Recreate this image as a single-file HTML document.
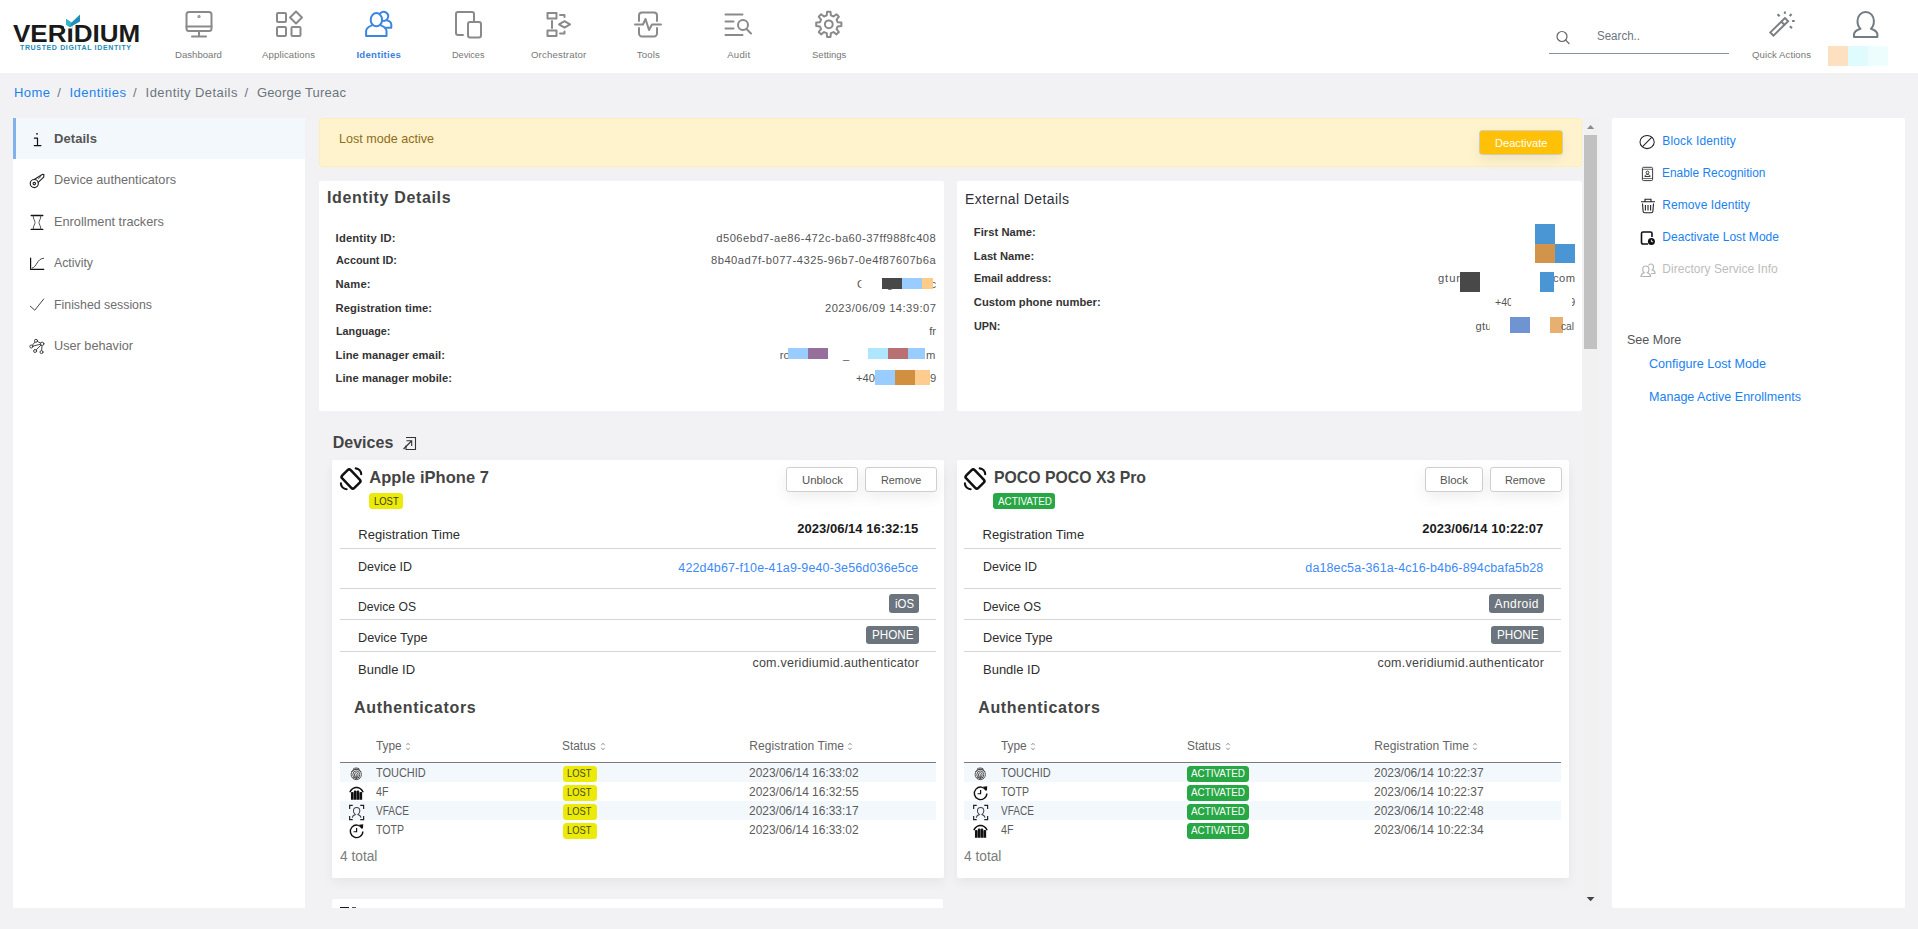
<!DOCTYPE html>
<html><head><meta charset="utf-8"><title>Identity Details</title>
<style>
html,body{margin:0;padding:0}
body{width:1918px;height:929px;background:#f2f2f4;position:relative;overflow:hidden;font-family:"Liberation Sans",sans-serif;}
.a{position:absolute;display:block}
.t{white-space:pre;}
svg{overflow:visible}
</style></head><body>
<div class="a" style="left:0px;top:0px;width:1918px;height:73px;background:#fff;"></div>
<svg class="a" style="left:0;top:0" width="160" height="73" viewBox="0 0 160 73">
<text x="13" y="42" font-family="Liberation Sans" font-weight="700" font-size="23.6" fill="#1a1a1a" textLength="127.300" lengthAdjust="spacingAndGlyphs">VERIDIUM</text>
<rect x="64" y="22" width="8" height="6.5" fill="#fff"/>
<polygon points="66,19 71.5,22.5 80,14.5 80,21.5 70,27.2 66,24.5" fill="#1f8fb8"/>
<polygon points="66,19 71.5,22.5 70,27.2 66,24.5" fill="#35b3c9"/>
<text x="20" y="49.6" font-family="Liberation Sans" font-weight="700" font-size="7" fill="#1c8cb8" textLength="111" lengthAdjust="spacing">TRUSTED DIGITAL IDENTITY</text>
</svg>
<span class="a t" style="left:175.00px;top:49.87px;font-size:9.6px;line-height:9.6px;color:#777;">Dashboard</span>
<span class="a t" style="left:262.00px;top:49.87px;font-size:9.6px;line-height:9.6px;color:#777;letter-spacing:0.112px;">Applications</span>
<span class="a t" style="left:356.45px;top:49.87px;font-size:9.6px;line-height:9.6px;color:#3b82dd;font-weight:700;letter-spacing:0.262px;">Identities</span>
<span class="a t" style="left:452.45px;top:49.87px;font-size:9.6px;line-height:9.6px;color:#777;transform:scaleX(0.9518);transform-origin:0 0;">Devices</span>
<span class="a t" style="left:530.95px;top:49.87px;font-size:9.6px;line-height:9.6px;color:#777;letter-spacing:0.177px;">Orchestrator</span>
<span class="a t" style="left:636.85px;top:49.87px;font-size:9.6px;line-height:9.6px;color:#777;letter-spacing:0.122px;">Tools</span>
<span class="a t" style="left:727.20px;top:49.87px;font-size:9.6px;line-height:9.6px;color:#777;letter-spacing:0.280px;">Audit</span>
<span class="a t" style="left:811.50px;top:49.87px;font-size:9.6px;line-height:9.6px;color:#777;transform:scaleX(0.9917);transform-origin:0 0;">Settings</span>
<svg class="a" style="left:184.5px;top:10px" width="28" height="28" viewBox="0 0 28 28" fill="none" stroke="#8a8a8a" stroke-width="2" stroke-linecap="round" stroke-linejoin="round"><rect x="1.5" y="2" width="25" height="19" rx="2.5"/><path d="M1.5 16.5h25M14 21v5M7 26.5h14"/><circle cx="14" cy="6.5" r="0.6"/></svg>
<svg class="a" style="left:274.5px;top:10px" width="28" height="28" viewBox="0 0 28 28" fill="none" stroke="#8a8a8a" stroke-width="2" stroke-linecap="round" stroke-linejoin="round"><rect x="2" y="3" width="9" height="9" rx="1"/><rect x="2" y="17" width="9" height="9" rx="1"/><rect x="16.5" y="17" width="9" height="9" rx="1"/><path d="M21 1.5l6 6-6 6-6-6z"/></svg>
<svg class="a" style="left:364.7px;top:10px" width="28" height="28" viewBox="0 0 28 28" fill="none" stroke="#3b86e0" stroke-width="2" stroke-linecap="round" stroke-linejoin="round"><ellipse cx="11.400" cy="9.700" rx="5.700" ry="6.600"/><path d="M6.800 15.300C4 16.500 1.100 17.800 1.100 21V25.900H21.500V21C21.500 17.800 18.800 16.500 16 15.300"/><path d="M15.400 3.200A4.500 4.500 0 1 1 17.200 10.600"/><path d="M21.500 10.200C24 10.700 26.300 12 26.300 14.500V17.700H19.800"/></svg>
<svg class="a" style="left:453.9px;top:10px" width="28" height="28" viewBox="0 0 28 28" fill="none" stroke="#8a8a8a" stroke-width="2" stroke-linecap="round" stroke-linejoin="round"><path d="M9 25H4a2 2 0 0 1-2-2V4a2 2 0 0 1 2-2h14a2 2 0 0 1 2 2v7"/><rect x="14" y="12" width="13" height="15.500" rx="2"/></svg>
<svg class="a" style="left:544.6px;top:10px" width="28" height="28" viewBox="0 0 28 28" fill="none" stroke="#8a8a8a" stroke-width="2" stroke-linecap="round" stroke-linejoin="round"><rect x="2.500" y="3" width="9" height="5.500"/><rect x="2.500" y="20.500" width="9" height="5.500"/><path d="M7 11v7M15 5h4.500v2M15 23.500h4.500v-2M14 14.400l5.500-3.200 5.500 3.200-5.500 3.200z"/></svg>
<svg class="a" style="left:634.3px;top:10px" width="28" height="28" viewBox="0 0 28 28" fill="none" stroke="#8a8a8a" stroke-width="2" stroke-linecap="round" stroke-linejoin="round"><path d="M5 11V5.500a3 3 0 0 1 3-3h12a3 3 0 0 1 3 3V11M5 18v5.500a3 3 0 0 0 3 3h12a3 3 0 0 0 3-3V18M1 14.500h8l2.500-5.500 3.500 11 3-5.500h9"/></svg>
<svg class="a" style="left:724px;top:10px" width="28" height="28" viewBox="0 0 28 28" fill="none" stroke="#8a8a8a" stroke-width="2" stroke-linecap="round" stroke-linejoin="round"><path d="M1.500 4.500h17M1.500 11.500h8M1.500 18.500h8M1.500 25h17"/><circle cx="19" cy="15" r="5"/><path d="M22.500 19l4.500 4.500"/></svg>
<svg class="a" style="left:814.7px;top:10px" width="28" height="28" viewBox="0 0 28 28" fill="none" stroke="#8a8a8a" stroke-width="2" stroke-linecap="round" stroke-linejoin="round"><path d="M11.68 5.45 L12.11 1.71 L15.49 1.71 L15.92 5.45 L18.55 6.54 L21.50 4.20 L23.90 6.60 L21.56 9.55 L22.65 12.18 L26.39 12.61 L26.39 15.99 L22.65 16.42 L21.56 19.05 L23.90 22.00 L21.50 24.40 L18.55 22.06 L15.92 23.15 L15.49 26.89 L12.11 26.89 L11.68 23.15 L9.05 22.06 L6.10 24.40 L3.70 22.00 L6.04 19.05 L4.95 16.42 L1.21 15.99 L1.21 12.61 L4.95 12.18 L6.04 9.55 L3.70 6.60 L6.10 4.20 L9.05 6.54Z"/><circle cx="13.800" cy="14.300" r="3.900"/></svg>
<svg class="a" style="left:1555px;top:29px" width="16" height="16" viewBox="0 0 16 16" fill="none" stroke="#666" stroke-width="1.2" stroke-linecap="round"><circle cx="7" cy="7.500" r="5"/><path d="M10.700 11.200l3.300 3.300"/></svg>
<span class="a t" style="left:1597.00px;top:29.84px;font-size:12px;line-height:12px;color:#6c757d;transform:scaleX(0.9622);transform-origin:0 0;">Search..</span>
<div class="a" style="left:1549px;top:52.6px;width:180px;height:1.2px;background:#84929a;"></div>
<svg class="a" style="left:1767px;top:10px" width="30" height="30" viewBox="0 0 30 30" fill="none" stroke="#787f84" stroke-width="1.900" stroke-linejoin="miter"><path d="M17.900 8L21.100 11.200 6.500 25.600 3.300 22.400z"/><path d="M13.800 11.200l4.200 4.100"/><path d="M10.500 4.200l2.200 2M17.900 1.400v2.300M24.500 4l-1.800 2.200M25.100 11h2.600M22.800 16.300l2.200 1.800" stroke-width="2.100"/></svg>
<span class="a t" style="left:1752.00px;top:49.87px;font-size:9.6px;line-height:9.6px;color:#777;letter-spacing:0.070px;">Quick Actions</span>
<svg class="a" style="left:1851px;top:10px" width="30" height="30" viewBox="0 0 30 30" fill="none" stroke="#737c80" stroke-width="2" stroke-linejoin="round"><path d="M3 27v-2c0-3.500 3-5.300 6.500-6.300C7.500 17 6.500 14.500 6.500 11c0-5 3.500-9 8.200-9s8.200 4 8.200 9c0 3.500-1 6-3 7.700 3.500 1 6.500 2.800 6.500 6.300v2z"/></svg>
<div class="a" style="left:1828px;top:46px;width:20px;height:20px;background:#fde0c0;"></div>
<div class="a" style="left:1848px;top:46px;width:20px;height:20px;background:#e0fbfd;"></div>
<div class="a" style="left:1868px;top:46px;width:20px;height:20px;background:#edfdfd;"></div>
<span class="a t" style="left:14.00px;top:86.00px;font-size:13px;line-height:13px;color:#1a82f0;letter-spacing:0.440px;">Home</span>
<span class="a t" style="left:57.30px;top:86.00px;font-size:13px;line-height:13px;color:#6c757d;">/</span>
<span class="a t" style="left:69.40px;top:86.00px;font-size:13px;line-height:13px;color:#1a82f0;letter-spacing:0.508px;">Identities</span>
<span class="a t" style="left:133.00px;top:86.00px;font-size:13px;line-height:13px;color:#6c757d;">/</span>
<span class="a t" style="left:145.60px;top:86.00px;font-size:13px;line-height:13px;color:#6c757d;letter-spacing:0.436px;">Identity Details</span>
<span class="a t" style="left:244.60px;top:86.00px;font-size:13px;line-height:13px;color:#6c757d;">/</span>
<span class="a t" style="left:256.90px;top:86.00px;font-size:13px;line-height:13px;color:#6c757d;letter-spacing:0.190px;">George Tureac</span>
<div class="a" style="left:13px;top:118px;width:292px;height:790px;background:#fff;"></div>
<div class="a" style="left:13px;top:118px;width:292px;height:41px;background:#f3f8fc;"></div>
<div class="a" style="left:13px;top:118px;width:3px;height:41px;background:#80b2ec;"></div>
<span class="a t" style="left:54.00px;top:132.00px;font-size:13px;line-height:13px;color:#555;font-weight:700;letter-spacing:0.061px;">Details</span>
<span class="a t" style="left:54.00px;top:173.00px;font-size:13px;line-height:13px;color:#6e6e6e;transform:scaleX(0.9759);transform-origin:0 0;">Device authenticators</span>
<span class="a t" style="left:54.00px;top:215.00px;font-size:13px;line-height:13px;color:#6e6e6e;transform:scaleX(0.9823);transform-origin:0 0;">Enrollment trackers</span>
<span class="a t" style="left:54.00px;top:256.00px;font-size:13px;line-height:13px;color:#6e6e6e;transform:scaleX(0.9473);transform-origin:0 0;">Activity</span>
<span class="a t" style="left:54.00px;top:297.50px;font-size:13px;line-height:13px;color:#6e6e6e;transform:scaleX(0.9484);transform-origin:0 0;">Finished sessions</span>
<span class="a t" style="left:54.00px;top:339.00px;font-size:13px;line-height:13px;color:#6e6e6e;transform:scaleX(0.9762);transform-origin:0 0;">User behavior</span>
<div class="a" style="left:319px;top:118px;width:1262.8px;height:48.8px;background:#fff3cd;border-radius:3.5px;box-shadow:inset 0 0 0 1px #ffeeba"></div>
<span class="a t" style="left:338.50px;top:132.00px;font-size:13px;line-height:13px;color:#8d6d1a;transform:scaleX(0.9667);transform-origin:0 0;">Lost mode active</span>
<div class="a" style="left:1479.8px;top:130.7px;width:82.4px;height:23.4px;background:#ffc107;border-radius:2.5px;box-shadow:0 0 0 0.8px rgba(160,160,170,.55),0 5px 14px rgba(0,0,0,.07)"></div>
<span class="a t" style="left:1494.65px;top:137.52px;font-size:11.2px;line-height:11.2px;color:#fff;transform:scaleX(0.9921);transform-origin:0 0;">Deactivate</span>
<div class="a" style="left:319px;top:181px;width:625px;height:230px;background:#fff;border-radius:2px"></div>
<span class="a t" style="left:327.00px;top:190.46px;font-size:16px;line-height:16px;color:#444;font-weight:700;letter-spacing:0.653px;">Identity Details</span>
<span class="a t" style="left:335.60px;top:233.02px;font-size:11.2px;line-height:11.2px;color:#333;font-weight:700;letter-spacing:0.194px;">Identity ID:</span>
<span class="a t" style="left:716.30px;top:233.02px;font-size:11.2px;line-height:11.2px;color:#555;letter-spacing:0.465px;">d506ebd7-ae86-472c-ba60-37ff988fc408</span>
<span class="a t" style="left:335.60px;top:255.22px;font-size:11.2px;line-height:11.2px;color:#333;font-weight:700;transform:scaleX(0.9707);transform-origin:0 0;">Account ID:</span>
<span class="a t" style="left:711.00px;top:255.22px;font-size:11.2px;line-height:11.2px;color:#555;letter-spacing:0.485px;">8b40ad7f-b077-4325-96b7-0e4f87607b6a</span>
<span class="a t" style="left:335.60px;top:278.52px;font-size:11.2px;line-height:11.2px;color:#333;font-weight:700;letter-spacing:0.191px;">Name:</span>
<span class="a t" style="left:335.60px;top:303.12px;font-size:11.2px;line-height:11.2px;color:#333;font-weight:700;letter-spacing:0.076px;">Registration time:</span>
<span class="a t" style="left:825.00px;top:303.12px;font-size:11.2px;line-height:11.2px;color:#555;letter-spacing:0.457px;">2023/06/09 14:39:07</span>
<span class="a t" style="left:335.60px;top:325.52px;font-size:11.2px;line-height:11.2px;color:#333;font-weight:700;transform:scaleX(0.9625);transform-origin:0 0;">Language:</span>
<span class="a t" style="left:929.16px;top:325.52px;font-size:11.2px;line-height:11.2px;color:#555;">fr</span>
<span class="a t" style="left:335.60px;top:350.12px;font-size:11.2px;line-height:11.2px;color:#333;font-weight:700;letter-spacing:0.066px;">Line manager email:</span>
<span class="a t" style="left:335.60px;top:372.52px;font-size:11.2px;line-height:11.2px;color:#333;font-weight:700;letter-spacing:0.039px;">Line manager mobile:</span>
<span class="a t" style="left:857.00px;top:278.52px;font-size:11.2px;line-height:11.2px;color:#555;clip-path:inset(0 4.3px 0 0);">G</span>
<span class="a t" style="left:887.00px;top:278.52px;font-size:11.2px;line-height:11.2px;color:#555;">g</span>
<span class="a t" style="left:930.50px;top:278.52px;font-size:11.2px;line-height:11.2px;color:#555;">c</span>
<div class="a" style="left:882px;top:278px;width:20px;height:11px;background:#484848;"></div>
<div class="a" style="left:902px;top:278px;width:20px;height:11px;background:#99ccff;"></div>
<div class="a" style="left:922px;top:278px;width:11px;height:11px;background:#ffcc88;"></div>
<span class="a t" style="left:779.80px;top:350.12px;font-size:11.2px;line-height:11.2px;color:#555;">ro</span>
<div class="a" style="left:788px;top:348px;width:20px;height:11px;background:#99ccff;"></div>
<div class="a" style="left:808px;top:348px;width:20px;height:11px;background:#96709a;"></div>
<span class="a t" style="left:843.00px;top:350.12px;font-size:11.2px;line-height:11.2px;color:#555;">_</span>
<div class="a" style="left:868px;top:348px;width:20px;height:11px;background:#aee6fd;"></div>
<div class="a" style="left:888px;top:348px;width:20px;height:11px;background:#b87070;"></div>
<div class="a" style="left:908px;top:348px;width:17px;height:11px;background:#99ccff;"></div>
<span class="a t" style="left:926.00px;top:350.12px;font-size:11.2px;line-height:11.2px;color:#555;">m</span>
<span class="a t" style="left:856.00px;top:372.52px;font-size:11.2px;line-height:11.2px;color:#555;">+40</span>
<div class="a" style="left:875px;top:370.1px;width:20px;height:14.6px;background:#99ccff;"></div>
<div class="a" style="left:895px;top:370.1px;width:20px;height:14.6px;background:#d19040;"></div>
<div class="a" style="left:915px;top:370.1px;width:15px;height:14.6px;background:#ffcc90;"></div>
<span class="a t" style="left:930.00px;top:372.52px;font-size:11.2px;line-height:11.2px;color:#555;">9</span>
<div class="a" style="left:957px;top:181px;width:625px;height:230px;background:#fff;border-radius:2px"></div>
<span class="a t" style="left:965.00px;top:192.15px;font-size:14px;line-height:14px;color:#2f2f3a;letter-spacing:0.397px;">External Details</span>
<span class="a t" style="left:973.80px;top:226.52px;font-size:11.2px;line-height:11.2px;color:#333;font-weight:700;letter-spacing:0.038px;">First Name:</span>
<span class="a t" style="left:973.80px;top:250.92px;font-size:11.2px;line-height:11.2px;color:#333;font-weight:700;letter-spacing:0.014px;">Last Name:</span>
<span class="a t" style="left:973.80px;top:273.22px;font-size:11.2px;line-height:11.2px;color:#333;font-weight:700;transform:scaleX(0.9726);transform-origin:0 0;">Email address:</span>
<span class="a t" style="left:973.80px;top:297.32px;font-size:11.2px;line-height:11.2px;color:#333;font-weight:700;letter-spacing:0.036px;">Custom phone number:</span>
<span class="a t" style="left:973.80px;top:321.02px;font-size:11.2px;line-height:11.2px;color:#333;font-weight:700;transform:scaleX(0.9679);transform-origin:0 0;">UPN:</span>
<div class="a" style="left:1535px;top:224px;width:20px;height:20px;background:#4a96d4;"></div>
<div class="a" style="left:1535px;top:244px;width:20px;height:19px;background:#d2944a;"></div>
<div class="a" style="left:1555px;top:244px;width:20px;height:19px;background:#4a96d4;"></div>
<span class="a t" style="left:1438.00px;top:273.22px;font-size:11.2px;line-height:11.2px;color:#555;letter-spacing:0.900px;">gtur</span>
<div class="a" style="left:1460px;top:272px;width:20px;height:20px;background:#484848;"></div>
<span class="a t" style="left:1553.00px;top:273.22px;font-size:11.2px;line-height:11.2px;color:#555;letter-spacing:0.420px;">com</span>
<div class="a" style="left:1540px;top:272px;width:14px;height:20px;background:#4a96d4;"></div>
<span class="a t" style="left:1494.50px;top:297.32px;font-size:11.2px;line-height:11.2px;color:#555;transform:scaleX(0.9474);transform-origin:0 0;clip-path:inset(0 2px 0 0);">+40</span>
<span class="a t" style="left:1569.00px;top:297.32px;font-size:11.2px;line-height:11.2px;color:#555;clip-path:inset(0 0 0 3px);">9</span>
<span class="a t" style="left:1475.50px;top:321.02px;font-size:11.2px;line-height:11.2px;color:#555;letter-spacing:0.215px;clip-path:inset(0 2px 0 0);">gtu</span>
<div class="a" style="left:1510px;top:317px;width:20px;height:16px;background:#7094d2;"></div>
<div class="a" style="left:1550px;top:317px;width:13px;height:16px;background:#e8b070;"></div>
<span class="a t" style="left:1561.30px;top:321.02px;font-size:11.2px;line-height:11.2px;color:#555;transform:scaleX(0.9080);transform-origin:0 0;">cal</span>
<span class="a t" style="left:332.70px;top:434.76px;font-size:16px;line-height:16px;color:#444;font-weight:700;letter-spacing:0.018px;">Devices</span>
<svg class="a" style="left:402px;top:436px" width="15" height="15" viewBox="0 0 15 15" fill="none" stroke="#333" stroke-width="1.100"><path d="M4 1.500h9.500v12h-9.500v-4"/><path d="M1.500 13l8-8M4.500 4.800h5.200v5.200"/></svg>
<div class="a" style="left:332px;top:460px;width:611.6px;height:418px;background:#fff;border-radius:2px;box-shadow:0 5px 12px rgba(0,0,0,.05)"></div>
<svg class="a" style="left:339px;top:466.500px" width="24" height="24" viewBox="0 0 24 24" fill="none" stroke="#111" stroke-linecap="round" stroke-linejoin="round"><rect x="-8.700" y="-5.900" width="17.400" height="11.800" rx="2.200" transform="translate(12 12) rotate(46)" stroke-width="2.500"/><path d="M16.700 1.400A6 6 0 0 1 22.200 7.300M1.900 16.200A6 6 0 0 0 7.600 22.300" stroke-width="2.100"/></svg>
<span class="a t" style="left:369.30px;top:469.33px;font-size:16.5px;line-height:16.5px;color:#444;font-weight:700;letter-spacing:0.040px;">Apple iPhone 7</span>
<div class="a" style="left:369px;top:493.3px;width:33.7px;height:15.4px;background:#ebea0a;border-radius:3.5px"></div>
<span class="a t" style="left:374.30px;top:495.89px;font-size:11px;line-height:11px;color:#3a3a10;transform:scaleX(0.8597);transform-origin:0 0;">LOST</span>
<div class="a" style="left:785.7px;top:467.300px;width:72.0px;height:24.7px;background:#fff;border:1px solid #cfcfcf;box-sizing:border-box;border-radius:3px;box-shadow:0 5px 15px rgba(0,0,0,.07)"></div>
<span class="a t" style="left:802.00px;top:474.81px;font-size:11.8px;line-height:11.8px;color:#555;transform:scaleX(0.9617);transform-origin:0 0;">Unblock</span>
<div class="a" style="left:864.7px;top:467.300px;width:72.0px;height:24.7px;background:#fff;border:1px solid #cfcfcf;box-sizing:border-box;border-radius:3px;box-shadow:0 5px 15px rgba(0,0,0,.07)"></div>
<span class="a t" style="left:881.00px;top:474.81px;font-size:11.8px;line-height:11.8px;color:#555;transform:scaleX(0.9194);transform-origin:0 0;">Remove</span>
<span class="a t" style="left:358.30px;top:528.00px;font-size:13px;line-height:13px;color:#2d2d2d;letter-spacing:0.034px;">Registration Time</span>
<span class="a t" style="left:797.30px;top:522.30px;font-size:13px;line-height:13px;color:#1a1a1a;font-weight:700;letter-spacing:0.016px;">2023/06/14 16:32:15</span>
<div class="a" style="left:340px;top:548px;width:596px;height:1px;background:#d6d6d6;"></div>
<span class="a t" style="left:358.30px;top:560.00px;font-size:13px;line-height:13px;color:#2d2d2d;transform:scaleX(0.9583);transform-origin:0 0;">Device ID</span>
<span class="a t" style="left:678.30px;top:561.72px;font-size:12.5px;line-height:12.5px;color:#3d8af5;letter-spacing:0.145px;">422d4b67-f10e-41a9-9e40-3e56d036e5ce</span>
<div class="a" style="left:340px;top:588px;width:596px;height:1px;background:#d6d6d6;"></div>
<span class="a t" style="left:358.30px;top:599.70px;font-size:13px;line-height:13px;color:#2d2d2d;transform:scaleX(0.9335);transform-origin:0 0;">Device OS</span>
<div class="a" style="left:889px;top:594px;width:30px;height:18.6px;background:#6c757d;border-radius:3px"></div>
<span class="a t" style="left:894.50px;top:597.84px;font-size:12px;line-height:12px;color:#fff;transform:scaleX(0.9498);transform-origin:0 0;">iOS</span>
<div class="a" style="left:340px;top:619px;width:596px;height:1px;background:#d6d6d6;"></div>
<span class="a t" style="left:358.30px;top:630.70px;font-size:13px;line-height:13px;color:#2d2d2d;transform:scaleX(0.9748);transform-origin:0 0;">Device Type</span>
<div class="a" style="left:866px;top:625.7px;width:53px;height:18.6px;background:#6c757d;border-radius:3px"></div>
<span class="a t" style="left:871.75px;top:628.64px;font-size:12px;line-height:12px;color:#fff;transform:scaleX(0.9725);transform-origin:0 0;">PHONE</span>
<div class="a" style="left:340px;top:651px;width:596px;height:1px;background:#d6d6d6;"></div>
<span class="a t" style="left:358.30px;top:663.00px;font-size:13px;line-height:13px;color:#2d2d2d;transform:scaleX(0.9984);transform-origin:0 0;">Bundle ID</span>
<span class="a t" style="left:752.40px;top:657.02px;font-size:12.5px;line-height:12.5px;color:#444;letter-spacing:0.252px;">com.veridiumid.authenticator</span>
<span class="a t" style="left:354.00px;top:699.86px;font-size:16px;line-height:16px;color:#444;font-weight:700;letter-spacing:0.677px;">Authenticators</span>
<span class="a t" style="left:376.00px;top:739.84px;font-size:12px;line-height:12px;color:#646464;transform:scaleX(0.9878);transform-origin:0 0;">Type</span>
<span class="a t" style="left:562.30px;top:739.84px;font-size:12px;line-height:12px;color:#646464;transform:scaleX(0.9906);transform-origin:0 0;">Status</span>
<span class="a t" style="left:749.30px;top:739.84px;font-size:12px;line-height:12px;color:#646464;letter-spacing:0.083px;">Registration Time</span>
<svg class="a" style="left:405.3px;top:741.500px" width="6" height="9" viewBox="0 0 5.400 9"><path d="M1 3.200L2.700 1.200 4.400 3.200M1 5.800L2.700 7.800 4.400 5.800" fill="none" stroke="#888" stroke-width="0.900"/></svg>
<svg class="a" style="left:599.7px;top:741.500px" width="6" height="9" viewBox="0 0 5.400 9"><path d="M1 3.200L2.700 1.200 4.400 3.200M1 5.800L2.700 7.800 4.400 5.800" fill="none" stroke="#888" stroke-width="0.900"/></svg>
<svg class="a" style="left:847.3px;top:741.500px" width="6" height="9" viewBox="0 0 5.400 9"><path d="M1 3.200L2.700 1.200 4.400 3.200M1 5.800L2.700 7.800 4.400 5.800" fill="none" stroke="#888" stroke-width="0.900"/></svg>
<div class="a" style="left:340px;top:762px;width:596px;height:1.3px;background:#7a7a7a;"></div>
<div class="a" style="left:340px;top:763.3px;width:596px;height:19px;background:#f3f8fc;"></div>
<svg class="a" style="left:348.8px;top:765.8px" width="15" height="15.500" viewBox="0 0 15 16"><g fill="none" stroke="#333" stroke-width="0.850"><path d="M2.300 6.200C4 2.300 10.500 2.300 12.200 6.200"/><path d="M3.800 3.300C5.800 1.600 8.700 1.600 10.700 3.300"/><ellipse cx="7.250" cy="8.800" rx="5.300" ry="5.300"/><ellipse cx="7.250" cy="9" rx="3.600" ry="3.900"/><ellipse cx="7.250" cy="9.300" rx="1.900" ry="2.500"/><path d="M7.250 8.500v4.800M4.300 12.800l1.400-1.600M10.200 12.800l-1.400-1.600"/></g></svg>
<span class="a t" style="left:376.00px;top:766.54px;font-size:12px;line-height:12px;color:#5c5c5c;transform:scaleX(0.9128);transform-origin:0 0;">TOUCHID</span>
<div class="a" style="left:562.7px;top:766.3px;width:34px;height:15.5px;background:#ebea0a;border-radius:3.5px"></div>
<span class="a t" style="left:567.30px;top:768.01px;font-size:10.5px;line-height:10.5px;color:#4c4c18;transform:scaleX(0.8897);transform-origin:0 0;">LOST</span>
<span class="a t" style="left:749.30px;top:766.54px;font-size:12px;line-height:12px;color:#5c5c5c;transform:scaleX(0.9954);transform-origin:0 0;">2023/06/14 16:33:02</span>
<svg class="a" style="left:348.8px;top:784.8px" width="15" height="15.500" viewBox="0 0 15 16"><g fill="#111" stroke="none" transform="translate(-0.600 0.700) scale(1.080 1)"><path d="M0.500 6.500C2 2.500 5 1 7.500 1s5.500 1.500 7 5.500l-1.300.6C12 4 10 2.600 7.500 2.600S3 4 1.800 7.100z"/><path d="M2.200 14.500V7.600c0-1.300 2.500-1.300 2.500 0v6.900zM5 14.500V5.900c0-1.300 2.400-1.300 2.400 0v8.600zM7.700 14.500V5.900c0-1.300 2.400-1.300 2.400 0v8.600zM10.400 14.500V7.600c0-1.300 2.500-1.300 2.500 0v6.900z"/></g></svg>
<span class="a t" style="left:376.00px;top:785.54px;font-size:12px;line-height:12px;color:#5c5c5c;transform:scaleX(0.8926);transform-origin:0 0;">4F</span>
<div class="a" style="left:562.7px;top:785.3px;width:34px;height:15.5px;background:#ebea0a;border-radius:3.5px"></div>
<span class="a t" style="left:567.30px;top:787.01px;font-size:10.5px;line-height:10.5px;color:#4c4c18;transform:scaleX(0.8897);transform-origin:0 0;">LOST</span>
<span class="a t" style="left:749.30px;top:785.54px;font-size:12px;line-height:12px;color:#5c5c5c;transform:scaleX(0.9954);transform-origin:0 0;">2023/06/14 16:32:55</span>
<div class="a" style="left:340px;top:801.3px;width:596px;height:19px;background:#f3f8fc;"></div>
<svg class="a" style="left:348.8px;top:803.8px" width="15" height="15.500" viewBox="0 0 15 16"><g fill="none" stroke="#222" stroke-width="1.150" transform="translate(-0.300 0.300) scale(1.060)"><path d="M0.700 4.500V1h3M11 1h3.300v3.500M0.700 11.500V15h3M11 15h3.300v-3.500"/><path d="M3.300 13.200c0-1.800 1.500-2.600 3-3.200-1.200-.8-1.900-1.900-1.900-3.400 0-2 1.300-3.500 3.100-3.500s3.100 1.500 3.100 3.500c0 1.500-.7 2.600-1.900 3.400 1.500.6 3 1.400 3 3.200" stroke="#444" stroke-width="1"/></g></svg>
<span class="a t" style="left:376.00px;top:804.54px;font-size:12px;line-height:12px;color:#5c5c5c;transform:scaleX(0.8387);transform-origin:0 0;">VFACE</span>
<div class="a" style="left:562.7px;top:804.3px;width:34px;height:15.5px;background:#ebea0a;border-radius:3.5px"></div>
<span class="a t" style="left:567.30px;top:806.01px;font-size:10.5px;line-height:10.5px;color:#4c4c18;transform:scaleX(0.8897);transform-origin:0 0;">LOST</span>
<span class="a t" style="left:749.30px;top:804.54px;font-size:12px;line-height:12px;color:#5c5c5c;transform:scaleX(0.9954);transform-origin:0 0;">2023/06/14 16:33:17</span>
<svg class="a" style="left:348.8px;top:822.8px" width="15" height="15.500" viewBox="0 0 15 16"><g fill="none" stroke="#111" stroke-width="1.400" transform="translate(-0.200 0.200) scale(1.040)"><path d="M13 5.200A6.200 6.200 0 1 0 13.700 8.200"/><path d="M7.500 4.800V8.500H4.500" stroke-width="1.200"/><path d="M9.800 1.500l4.300-.5-.3 4.600z" fill="#111" stroke="none"/></g></svg>
<span class="a t" style="left:376.00px;top:823.54px;font-size:12px;line-height:12px;color:#5c5c5c;transform:scaleX(0.8810);transform-origin:0 0;">TOTP</span>
<div class="a" style="left:562.7px;top:823.3px;width:34px;height:15.5px;background:#ebea0a;border-radius:3.5px"></div>
<span class="a t" style="left:567.30px;top:825.01px;font-size:10.5px;line-height:10.5px;color:#4c4c18;transform:scaleX(0.8897);transform-origin:0 0;">LOST</span>
<span class="a t" style="left:749.30px;top:823.54px;font-size:12px;line-height:12px;color:#5c5c5c;transform:scaleX(0.9954);transform-origin:0 0;">2023/06/14 16:33:02</span>
<span class="a t" style="left:340.00px;top:848.75px;font-size:14px;line-height:14px;color:#7c7c7c;transform:scaleX(0.9807);transform-origin:0 0;">4 total</span>
<div class="a" style="left:957px;top:460px;width:611.6px;height:418px;background:#fff;border-radius:2px;box-shadow:0 5px 12px rgba(0,0,0,.05)"></div>
<svg class="a" style="left:963.2px;top:466.500px" width="24" height="24" viewBox="0 0 24 24" fill="none" stroke="#111" stroke-linecap="round" stroke-linejoin="round"><rect x="-8.700" y="-5.900" width="17.400" height="11.800" rx="2.200" transform="translate(12 12) rotate(46)" stroke-width="2.500"/><path d="M16.700 1.400A6 6 0 0 1 22.200 7.300M1.900 16.200A6 6 0 0 0 7.600 22.300" stroke-width="2.100"/></svg>
<span class="a t" style="left:993.50px;top:469.33px;font-size:16.5px;line-height:16.5px;color:#444;font-weight:700;transform:scaleX(0.9583);transform-origin:0 0;">POCO POCO X3 Pro</span>
<div class="a" style="left:993.2px;top:493.3px;width:62.3px;height:15.4px;background:#28a745;border-radius:3px"></div>
<span class="a t" style="left:997.50px;top:495.89px;font-size:11px;line-height:11px;color:#fff;transform:scaleX(0.8985);transform-origin:0 0;">ACTIVATED</span>
<div class="a" style="left:1425px;top:467.300px;width:58.2px;height:24.7px;background:#fff;border:1px solid #cfcfcf;box-sizing:border-box;border-radius:3px;box-shadow:0 5px 15px rgba(0,0,0,.07)"></div>
<span class="a t" style="left:1440.30px;top:474.81px;font-size:11.8px;line-height:11.8px;color:#555;transform:scaleX(0.9703);transform-origin:0 0;">Block</span>
<div class="a" style="left:1490px;top:467.300px;width:72.0px;height:24.7px;background:#fff;border:1px solid #cfcfcf;box-sizing:border-box;border-radius:3px;box-shadow:0 5px 15px rgba(0,0,0,.07)"></div>
<span class="a t" style="left:1505.30px;top:474.81px;font-size:11.8px;line-height:11.8px;color:#555;transform:scaleX(0.9194);transform-origin:0 0;">Remove</span>
<span class="a t" style="left:982.50px;top:528.00px;font-size:13px;line-height:13px;color:#2d2d2d;letter-spacing:0.034px;">Registration Time</span>
<span class="a t" style="left:1422.30px;top:522.30px;font-size:13px;line-height:13px;color:#1a1a1a;font-weight:700;letter-spacing:0.016px;">2023/06/14 10:22:07</span>
<div class="a" style="left:964.2px;top:548px;width:596.8px;height:1px;background:#d6d6d6;"></div>
<span class="a t" style="left:982.50px;top:560.00px;font-size:13px;line-height:13px;color:#2d2d2d;transform:scaleX(0.9583);transform-origin:0 0;">Device ID</span>
<span class="a t" style="left:1305.30px;top:561.72px;font-size:12.5px;line-height:12.5px;color:#3d8af5;letter-spacing:0.128px;">da18ec5a-361a-4c16-b4b6-894cbafa5b28</span>
<div class="a" style="left:964.2px;top:588px;width:596.8px;height:1px;background:#d6d6d6;"></div>
<span class="a t" style="left:982.50px;top:599.70px;font-size:13px;line-height:13px;color:#2d2d2d;transform:scaleX(0.9335);transform-origin:0 0;">Device OS</span>
<div class="a" style="left:1489px;top:594px;width:55px;height:18.6px;background:#6c757d;border-radius:3px"></div>
<span class="a t" style="left:1494.50px;top:597.84px;font-size:12px;line-height:12px;color:#fff;letter-spacing:0.439px;">Android</span>
<div class="a" style="left:964.2px;top:619px;width:596.8px;height:1px;background:#d6d6d6;"></div>
<span class="a t" style="left:982.50px;top:630.70px;font-size:13px;line-height:13px;color:#2d2d2d;transform:scaleX(0.9748);transform-origin:0 0;">Device Type</span>
<div class="a" style="left:1491px;top:625.7px;width:53px;height:18.6px;background:#6c757d;border-radius:3px"></div>
<span class="a t" style="left:1496.75px;top:628.64px;font-size:12px;line-height:12px;color:#fff;transform:scaleX(0.9725);transform-origin:0 0;">PHONE</span>
<div class="a" style="left:964.2px;top:651px;width:596.8px;height:1px;background:#d6d6d6;"></div>
<span class="a t" style="left:982.50px;top:663.00px;font-size:13px;line-height:13px;color:#2d2d2d;transform:scaleX(0.9984);transform-origin:0 0;">Bundle ID</span>
<span class="a t" style="left:1377.40px;top:657.02px;font-size:12.5px;line-height:12.5px;color:#444;letter-spacing:0.252px;">com.veridiumid.authenticator</span>
<span class="a t" style="left:978.20px;top:699.86px;font-size:16px;line-height:16px;color:#444;font-weight:700;letter-spacing:0.677px;">Authenticators</span>
<span class="a t" style="left:1001.00px;top:739.84px;font-size:12px;line-height:12px;color:#646464;transform:scaleX(0.9878);transform-origin:0 0;">Type</span>
<span class="a t" style="left:1187.30px;top:739.84px;font-size:12px;line-height:12px;color:#646464;transform:scaleX(0.9906);transform-origin:0 0;">Status</span>
<span class="a t" style="left:1374.30px;top:739.84px;font-size:12px;line-height:12px;color:#646464;letter-spacing:0.083px;">Registration Time</span>
<svg class="a" style="left:1030.3px;top:741.500px" width="6" height="9" viewBox="0 0 5.400 9"><path d="M1 3.200L2.700 1.200 4.400 3.200M1 5.800L2.700 7.800 4.400 5.800" fill="none" stroke="#888" stroke-width="0.900"/></svg>
<svg class="a" style="left:1224.7px;top:741.500px" width="6" height="9" viewBox="0 0 5.400 9"><path d="M1 3.200L2.700 1.200 4.400 3.200M1 5.800L2.700 7.800 4.400 5.800" fill="none" stroke="#888" stroke-width="0.900"/></svg>
<svg class="a" style="left:1472.3px;top:741.500px" width="6" height="9" viewBox="0 0 5.400 9"><path d="M1 3.200L2.700 1.200 4.400 3.200M1 5.800L2.700 7.800 4.400 5.800" fill="none" stroke="#888" stroke-width="0.900"/></svg>
<div class="a" style="left:964.2px;top:762px;width:596.8px;height:1.3px;background:#7a7a7a;"></div>
<div class="a" style="left:964.2px;top:763.3px;width:596.8px;height:19px;background:#f3f8fc;"></div>
<svg class="a" style="left:973.0px;top:765.8px" width="15" height="15.500" viewBox="0 0 15 16"><g fill="none" stroke="#333" stroke-width="0.850"><path d="M2.300 6.200C4 2.300 10.500 2.300 12.200 6.200"/><path d="M3.800 3.300C5.800 1.600 8.700 1.600 10.700 3.300"/><ellipse cx="7.250" cy="8.800" rx="5.300" ry="5.300"/><ellipse cx="7.250" cy="9" rx="3.600" ry="3.900"/><ellipse cx="7.250" cy="9.300" rx="1.900" ry="2.500"/><path d="M7.250 8.500v4.800M4.300 12.800l1.400-1.600M10.200 12.800l-1.400-1.600"/></g></svg>
<span class="a t" style="left:1001.00px;top:766.54px;font-size:12px;line-height:12px;color:#5c5c5c;transform:scaleX(0.9128);transform-origin:0 0;">TOUCHID</span>
<div class="a" style="left:1187px;top:766.3px;width:62.3px;height:15.5px;background:#28a745;border-radius:3.5px"></div>
<span class="a t" style="left:1191.00px;top:768.01px;font-size:10.5px;line-height:10.5px;color:#fff;transform:scaleX(0.9413);transform-origin:0 0;">ACTIVATED</span>
<span class="a t" style="left:1374.30px;top:766.54px;font-size:12px;line-height:12px;color:#5c5c5c;transform:scaleX(0.9954);transform-origin:0 0;">2023/06/14 10:22:37</span>
<svg class="a" style="left:973.0px;top:784.8px" width="15" height="15.500" viewBox="0 0 15 16"><g fill="none" stroke="#111" stroke-width="1.400" transform="translate(-0.200 0.200) scale(1.040)"><path d="M13 5.200A6.200 6.200 0 1 0 13.700 8.200"/><path d="M7.500 4.800V8.500H4.500" stroke-width="1.200"/><path d="M9.800 1.500l4.300-.5-.3 4.600z" fill="#111" stroke="none"/></g></svg>
<span class="a t" style="left:1001.00px;top:785.54px;font-size:12px;line-height:12px;color:#5c5c5c;transform:scaleX(0.8810);transform-origin:0 0;">TOTP</span>
<div class="a" style="left:1187px;top:785.3px;width:62.3px;height:15.5px;background:#28a745;border-radius:3.5px"></div>
<span class="a t" style="left:1191.00px;top:787.01px;font-size:10.5px;line-height:10.5px;color:#fff;transform:scaleX(0.9413);transform-origin:0 0;">ACTIVATED</span>
<span class="a t" style="left:1374.30px;top:785.54px;font-size:12px;line-height:12px;color:#5c5c5c;transform:scaleX(0.9954);transform-origin:0 0;">2023/06/14 10:22:37</span>
<div class="a" style="left:964.2px;top:801.3px;width:596.8px;height:19px;background:#f3f8fc;"></div>
<svg class="a" style="left:973.0px;top:803.8px" width="15" height="15.500" viewBox="0 0 15 16"><g fill="none" stroke="#222" stroke-width="1.150" transform="translate(-0.300 0.300) scale(1.060)"><path d="M0.700 4.500V1h3M11 1h3.300v3.500M0.700 11.500V15h3M11 15h3.300v-3.500"/><path d="M3.300 13.200c0-1.800 1.500-2.600 3-3.200-1.200-.8-1.900-1.900-1.900-3.400 0-2 1.300-3.500 3.100-3.500s3.100 1.500 3.100 3.500c0 1.500-.7 2.600-1.900 3.400 1.500.6 3 1.400 3 3.200" stroke="#444" stroke-width="1"/></g></svg>
<span class="a t" style="left:1001.00px;top:804.54px;font-size:12px;line-height:12px;color:#5c5c5c;transform:scaleX(0.8387);transform-origin:0 0;">VFACE</span>
<div class="a" style="left:1187px;top:804.3px;width:62.3px;height:15.5px;background:#28a745;border-radius:3.5px"></div>
<span class="a t" style="left:1191.00px;top:806.01px;font-size:10.5px;line-height:10.5px;color:#fff;transform:scaleX(0.9413);transform-origin:0 0;">ACTIVATED</span>
<span class="a t" style="left:1374.30px;top:804.54px;font-size:12px;line-height:12px;color:#5c5c5c;transform:scaleX(0.9954);transform-origin:0 0;">2023/06/14 10:22:48</span>
<svg class="a" style="left:973.0px;top:822.8px" width="15" height="15.500" viewBox="0 0 15 16"><g fill="#111" stroke="none" transform="translate(-0.600 0.700) scale(1.080 1)"><path d="M0.500 6.500C2 2.500 5 1 7.500 1s5.500 1.500 7 5.500l-1.300.6C12 4 10 2.600 7.500 2.600S3 4 1.800 7.100z"/><path d="M2.200 14.500V7.600c0-1.300 2.500-1.300 2.500 0v6.900zM5 14.500V5.900c0-1.300 2.400-1.300 2.400 0v8.600zM7.700 14.500V5.900c0-1.300 2.400-1.300 2.400 0v8.600zM10.400 14.500V7.600c0-1.300 2.500-1.300 2.500 0v6.900z"/></g></svg>
<span class="a t" style="left:1001.00px;top:823.54px;font-size:12px;line-height:12px;color:#5c5c5c;transform:scaleX(0.8926);transform-origin:0 0;">4F</span>
<div class="a" style="left:1187px;top:823.3px;width:62.3px;height:15.5px;background:#28a745;border-radius:3.5px"></div>
<span class="a t" style="left:1191.00px;top:825.01px;font-size:10.5px;line-height:10.5px;color:#fff;transform:scaleX(0.9413);transform-origin:0 0;">ACTIVATED</span>
<span class="a t" style="left:1374.30px;top:823.54px;font-size:12px;line-height:12px;color:#5c5c5c;transform:scaleX(0.9954);transform-origin:0 0;">2023/06/14 10:22:34</span>
<span class="a t" style="left:964.20px;top:848.75px;font-size:14px;line-height:14px;color:#7c7c7c;transform:scaleX(0.9807);transform-origin:0 0;">4 total</span>
<div class="a" style="left:332px;top:899px;width:611px;height:9px;background:#fff;border-radius:2px 2px 0 0"></div>
<div class="a" style="left:340.4px;top:906.9px;width:8.3px;height:1.1px;background:#1a1a1a;"></div>
<div class="a" style="left:352px;top:906.9px;width:4px;height:1.1px;background:#555;"></div>
<div class="a" style="left:1583.5px;top:118px;width:15px;height:790px;background:#f1f1f2;"></div>
<svg class="a" style="left:1583px;top:120px" width="16" height="12" viewBox="0 0 16 12"><path d="M4 9L7.600 5 11.200 9z" fill="#8c8c8c"/></svg>
<svg class="a" style="left:1583px;top:892px" width="16" height="12" viewBox="0 0 16 12"><path d="M3.700 5L7.600 9.200 11.500 5z" fill="#444"/></svg>
<div class="a" style="left:1584px;top:135px;width:13px;height:213.8px;background:#c1c1c1;"></div>
<div class="a" style="left:1612px;top:118px;width:292.5px;height:790px;background:#fff;border-radius:2px"></div>
<span class="a t" style="left:1662.30px;top:134.84px;font-size:12px;line-height:12px;color:#1a82f0;letter-spacing:0.156px;">Block Identity</span>
<span class="a t" style="left:1662.30px;top:166.54px;font-size:12px;line-height:12px;color:#1a82f0;transform:scaleX(0.9935);transform-origin:0 0;">Enable Recognition</span>
<span class="a t" style="left:1662.30px;top:198.84px;font-size:12px;line-height:12px;color:#1a82f0;letter-spacing:0.071px;">Remove Identity</span>
<span class="a t" style="left:1662.30px;top:230.54px;font-size:12px;line-height:12px;color:#1a82f0;letter-spacing:0.033px;">Deactivate Lost Mode</span>
<span class="a t" style="left:1662.30px;top:262.54px;font-size:12px;line-height:12px;color:#bdbdbd;letter-spacing:0.033px;">Directory Service Info</span>
<svg class="a" style="left:1639.300px;top:133.700px" width="17" height="16" viewBox="0 0 17 16" fill="none" stroke="#222" stroke-width="1.050"><ellipse cx="8.100" cy="8" rx="7.100" ry="6.600"/><path d="M3.300 12.900L12.900 3.100"/></svg>
<svg class="a" style="left:1641px;top:166px" width="13" height="16" viewBox="0 0 13 16" fill="none" stroke="#333" stroke-width="0.950"><rect x="1.400" y="1.300" width="10.200" height="13.300" rx="1.200"/><path d="M1.400 3.300h10.200M1.400 12.500h10.200" stroke-width="0.700"/><circle cx="6.500" cy="6.500" r="1.400"/><path d="M3.800 10.500c.3-1.400 1.300-2 2.700-2s2.400.6 2.700 2z"/></svg>
<svg class="a" style="left:1640px;top:197px" width="16" height="17" viewBox="0 0 16 17" fill="none" stroke="#222" stroke-width="1.100"><path d="M1 4.800h14M5 4.500V2.300h6v2.200M2.500 6.500l.6 7.800a1.500 1.500 0 0 0 1.500 1.400h6.800a1.500 1.500 0 0 0 1.500-1.400l.6-7.800M5.400 8v5.500M8 8v5.500M10.600 8v5.500"/></svg>
<svg class="a" style="left:1640px;top:230px" width="16" height="16" viewBox="0 0 16 16" fill="none" stroke="#111" stroke-width="1.600"><path d="M8 14H3a1.500 1.500 0 0 1-1.500-1.500v-9A1.500 1.500 0 0 1 3 2h7.500A1.500 1.500 0 0 1 12 3.500V7"/><circle cx="11.400" cy="11.500" r="3.500" fill="#111" stroke="none"/><path d="M11.400 9.700v2h1.700" stroke="#fff" stroke-width="0.900"/></svg>
<svg class="a" style="left:1639.500px;top:262.500px" width="16" height="15" viewBox="0 0 16 15" fill="none" stroke="#b4b4b4" stroke-width="1.150"><path d="M1 13.500c0-2.500 1.500-3.300 3.200-3.800-1-.8-1.500-1.800-1.500-3.300C2.700 4.300 4 3 5.800 3s3.100 1.300 3.100 3.400c0 1.500-.5 2.500-1.500 3.300 1.700.5 3.200 1.300 3.200 3.800z"/><path d="M8.500 2.500C9 1.500 9.800 1 10.800 1c1.600 0 2.700 1.200 2.700 3 0 1.300-.4 2.200-1.300 2.900 1.500.4 2.800 1.200 2.800 3.300v.3h-4"/></svg>
<span class="a t" style="left:1626.70px;top:333.20px;font-size:13px;line-height:13px;color:#555;transform:scaleX(0.9634);transform-origin:0 0;">See More</span>
<span class="a t" style="left:1649.00px;top:356.70px;font-size:13px;line-height:13px;color:#1a82f0;transform:scaleX(0.9695);transform-origin:0 0;">Configure Lost Mode</span>
<span class="a t" style="left:1649.00px;top:389.70px;font-size:13px;line-height:13px;color:#1a82f0;transform:scaleX(0.9649);transform-origin:0 0;">Manage Active Enrollments</span>
<svg class="a" style="left:0;top:0" width="60" height="360" viewBox="0 0 60 360" fill="none" stroke="#222" stroke-width="1.100" stroke-linecap="round" stroke-linejoin="round"><circle cx="37" cy="133.800" r="0.900" fill="#111" stroke="none"/><path d="M34.400 138.200H37.500V145.600M34.300 145.600H40.900" stroke="#111" stroke-width="1.200"/><circle cx="34.300" cy="183.500" r="4.050" stroke-width="1.150"/><path d="M34.600 179.200L42.600 174.300L43.900 174.500L43.700 177.100L38.200 182.300" stroke-width="1.150"/><circle cx="34.300" cy="183.600" r="1.250"/><path d="M40.800 176.600l-2.300 1.900" stroke-width="0.800"/><path d="M31.200 215.500h11.600M31.200 229.400h11.600" stroke="#111" stroke-width="1.300"/><path d="M33.200 216c0 3.500 1.800 4.500 1.800 6.500s-1.800 3-1.800 6.500M40.800 216c0 3.500-1.800 4.500-1.800 6.500s1.800 3 1.800 6.500" stroke="#555" stroke-width="1"/><path d="M30.600 258v11.300H43.800" stroke="#111" stroke-width="1.200"/><path d="M32.300 268c4.500-.5 4.500-9.500 11.200-9.700" stroke="#444" stroke-width="1"/><path d="M30.300 306.200l4.500 4 8.900-11.200" stroke="#444" stroke-width="1"/><g stroke="#333" stroke-width="0.900"><path d="M36 340.800L42.200 343.800L31.300 346.500L36 340.800M35.100 351L42.200 343.800L41.500 352.100"/><circle cx="36" cy="340.800" r="1.500" fill="#fff"/><circle cx="42.200" cy="343.800" r="1.700" fill="#fff"/><circle cx="31.300" cy="346.500" r="1.500" fill="#fff"/><circle cx="35.100" cy="351" r="1.500" fill="#fff"/><circle cx="41.500" cy="352.100" r="1.500" fill="#fff"/></g></svg>
</body></html>
